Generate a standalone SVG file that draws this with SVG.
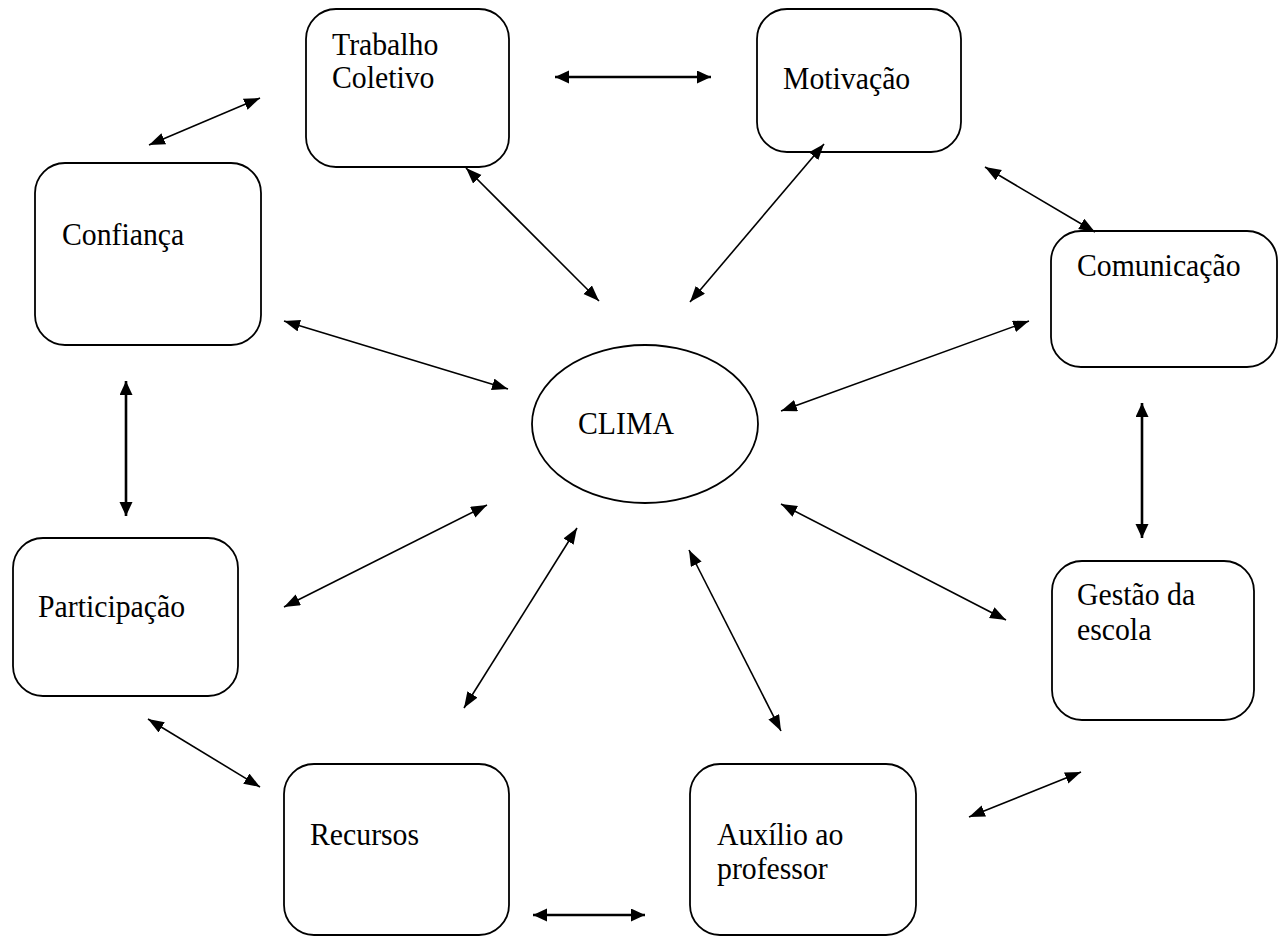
<svg xmlns="http://www.w3.org/2000/svg" width="1279" height="936" viewBox="0 0 1279 936">
<style>
.box{fill:#fff;stroke:#000;stroke-width:1.8}
.lbl{font-family:"Liberation Serif","Times New Roman",serif;font-size:32px;fill:#000}
.c{stroke:#000;stroke-width:1.6;fill:none;marker-start:url(#ah);marker-end:url(#ah)}
.cb{stroke:#000;stroke-width:2.6;fill:none;marker-start:url(#ahb);marker-end:url(#ahb)}
</style>
<defs>
<marker id="ah" markerUnits="userSpaceOnUse" markerWidth="17" markerHeight="13" refX="16" refY="6" orient="auto-start-reverse">
<path d="M0,0 L16,6 L0,12 z" fill="#000"/>
</marker>
<marker id="ahb" markerUnits="userSpaceOnUse" markerWidth="16" markerHeight="14" refX="14" refY="6.5" orient="auto-start-reverse">
<path d="M0,0 L14,6.5 L0,13 z" fill="#000"/>
</marker>
</defs>
<rect width="1279" height="936" fill="#fff"/>
<g id="trabalho"><rect class="box" x="306" y="9" width="203" height="158" rx="30"/><text class="lbl" transform="translate(332 55) scale(0.93 1)"><tspan x="0" y="0">Trabalho</tspan><tspan x="0" y="33">Coletivo</tspan></text></g>
<g id="motivacao"><rect class="box" x="757" y="9" width="204" height="143" rx="30"/><text class="lbl" transform="translate(783 89) scale(0.93 1)">Motivação</text></g>
<g id="confianca"><rect class="box" x="35" y="163" width="226" height="182" rx="30"/><text class="lbl" transform="translate(62 245) scale(0.93 1)">Confiança</text></g>
<g id="comunicacao"><rect class="box" x="1051" y="231" width="226" height="136" rx="30"/><text class="lbl" transform="translate(1077 276) scale(0.93 1)">Comunicação</text></g>
<g id="clima"><ellipse class="box" cx="645" cy="424" rx="113" ry="79"/><text class="lbl" transform="translate(578 434) scale(0.93 1)">CLIMA</text></g>
<g id="participacao"><rect class="box" x="13" y="538" width="225" height="158" rx="30"/><text class="lbl" transform="translate(38 617) scale(0.93 1)">Participação</text></g>
<g id="gestao"><rect class="box" x="1052" y="561" width="202" height="159" rx="30"/><text class="lbl" transform="translate(1077 605) scale(0.93 1)"><tspan x="0" y="0">Gestão da</tspan><tspan x="0" y="35">escola</tspan></text></g>
<g id="recursos"><rect class="box" x="284" y="764" width="225" height="171" rx="30"/><text class="lbl" transform="translate(310 845) scale(0.93 1)">Recursos</text></g>
<g id="auxilio"><rect class="box" x="690" y="764" width="226" height="171" rx="30"/><text class="lbl" transform="translate(717 845) scale(0.93 1)"><tspan x="0" y="0">Auxílio ao</tspan><tspan x="0" y="34">professor</tspan></text></g>
<g id="connectors">
<line class="c" x1="149" y1="145" x2="260" y2="98"/>
<line class="cb" x1="555" y1="77" x2="711" y2="77"/>
<line class="c" x1="466" y1="168" x2="599" y2="301"/>
<line class="c" x1="824" y1="144" x2="690" y2="302"/>
<line class="c" x1="985" y1="167" x2="1095" y2="232"/>
<line class="c" x1="284" y1="321" x2="508" y2="389"/>
<line class="c" x1="1029" y1="321" x2="781" y2="411"/>
<line class="cb" x1="126" y1="381" x2="126" y2="516"/>
<line class="cb" x1="1142" y1="403" x2="1142" y2="538"/>
<line class="c" x1="284" y1="607" x2="487" y2="505"/>
<line class="c" x1="577" y1="528" x2="464" y2="708"/>
<line class="c" x1="689" y1="550" x2="781" y2="731"/>
<line class="c" x1="781" y1="504" x2="1006" y2="620"/>
<line class="c" x1="148" y1="719" x2="260" y2="787"/>
<line class="cb" x1="533" y1="915" x2="645" y2="915"/>
<line class="c" x1="969" y1="817" x2="1081" y2="772"/>
</g>
</svg>
